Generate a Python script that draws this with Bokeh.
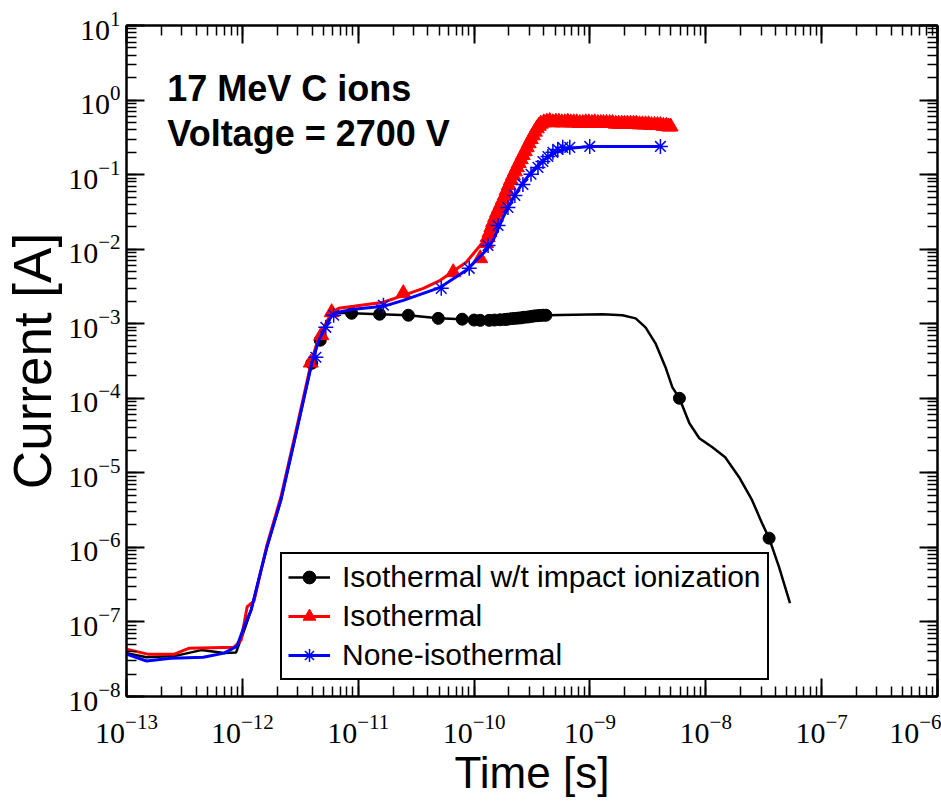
from bokeh.plotting import figure
from bokeh.models import LogAxis, LogTicker, CustomJSTickFormatter, Label
from bokeh.embed import file_html
from bokeh.resources import INLINE

# ---------------- data ----------------
black_t = [1.0e-13, 1.49e-13, 2.59e-13, 4.42e-13, 6.97e-13, 8.83e-13,
           1.03e-12, 1.19e-12, 1.45e-12, 1.63e-12, 2.15e-12, 2.95e-12, 3.97e-12, 4.56e-12, 5.90e-12, 6.52e-12,
           8.77e-12, 1.53e-11, 2.71e-11, 4.91e-11, 7.90e-11, 1.13e-10, 1.68e-10, 2.64e-10, 4.17e-10,
           1.29e-9, 1.91e-9, 2.48e-9, 3.02e-9, 3.68e-9, 4.49e-9, 5.15e-9, 5.92e-9, 7.22e-9, 8.79e-9,
           1.14e-8, 1.47e-8, 1.94e-8, 2.51e-8, 3.06e-8, 3.52e-8, 4.29e-8, 5.33e-8]
black_i = [3.82e-8, 3.37e-8, 3.48e-8, 4.19e-8, 3.82e-8, 3.9e-8,
           7.5e-8, 1.44e-7, 4.94e-7, 1.01e-6, 4.30e-6, 3.72e-5, 2.94e-4, 5.98e-4, 1.30e-3, 1.40e-3,
           1.38e-3, 1.34e-3, 1.30e-3, 1.18e-3, 1.15e-3, 1.11e-3, 1.13e-3, 1.20e-3, 1.30e-3,
           1.34e-3, 1.30e-3, 1.18e-3, 8.95e-4, 5.46e-4, 2.61e-4, 1.40e-4, 1.00e-4, 4.62e-5, 2.91e-5,
           2.20e-5, 1.62e-5, 8.73e-6, 4.30e-6, 2.11e-6, 1.33e-6, 5.43e-7, 1.79e-7]
black_mk_t = [3.97e-12, 4.7e-12, 8.77e-12, 1.53e-11, 2.71e-11, 4.91e-11, 7.90e-11, 1.0e-10, 1.13e-10, 1.35e-10,
              1.5e-10, 1.68e-10, 1.85e-10, 1.95e-10, 2.1e-10, 2.25e-10, 2.4e-10, 2.55e-10, 2.7e-10, 2.9e-10,
              3.1e-10, 3.3e-10, 3.5e-10, 3.7e-10, 3.95e-10, 4.17e-10, 5.92e-9, 3.52e-8]
black_mk_i = [2.94e-4, 6.0e-4, 1.38e-3, 1.34e-3, 1.30e-3, 1.18e-3, 1.15e-3, 1.12e-3, 1.11e-3, 1.11e-3,
              1.12e-3, 1.13e-3, 1.14e-3, 1.15e-3, 1.17e-3, 1.18e-3, 1.19e-3, 1.20e-3, 1.22e-3, 1.23e-3,
              1.25e-3, 1.27e-3, 1.28e-3, 1.29e-3, 1.30e-3, 1.30e-3, 1.0e-4, 1.33e-6]

red_t = [1.0e-13, 1.52e-13, 2.59e-13, 3.48e-13, 8.49e-13, 9.75e-13, 1.10e-12, 1.26e-12,
         1.45e-12, 1.63e-12, 2.15e-12, 2.95e-12, 3.97e-12, 4.56e-12, 5.90e-12, 6.78e-12,
         9.12e-12, 1.65e-11, 2.45e-11, 3.65e-11, 5.11e-11, 8.56e-11, 1.27e-10, 1.78e-10,
         2.17e-10, 2.64e-10, 3.22e-10, 3.93e-10, 5.83e-10, 1.29e-9, 2.84e-9, 4.67e-9, 5.15e-9]
red_i = [4.32e-8, 3.70e-8, 3.70e-8, 4.45e-8, 4.59e-8, 5.70e-8, 1.6e-7, 1.9e-7,
         4.94e-7, 1.07e-6, 4.71e-6, 4.08e-5, 3.23e-4, 6.58e-4, 1.42e-3, 1.61e-3,
         1.71e-3, 1.94e-3, 2.40e-3, 2.98e-3, 3.82e-3, 6.66e-3, 1.40e-2, 4.51e-2,
         9.75e-2, 0.181, 0.335, 0.50, 0.50, 0.49, 0.48, 0.45, 0.44]
red_mk_t = [3.9e-12, 4.8e-12, 5.90e-12, 2.45e-11, 6.61e-11, 1.13e-10, 1.27e-10,
            1.31e-10, 1.36e-10, 1.41e-10, 1.46e-10, 1.52e-10, 1.58e-10, 1.64e-10, 1.70e-10, 1.77e-10,
            1.84e-10, 1.91e-10, 1.99e-10, 2.08e-10, 2.17e-10, 2.25e-10, 2.34e-10, 2.43e-10,
            2.53e-10, 2.63e-10, 2.74e-10, 2.85e-10, 2.96e-10, 3.09e-10, 3.22e-10, 3.35e-10,
            3.48e-10, 3.62e-10, 3.77e-10, 4.0e-10,
            4.25e-10, 4.5e-10, 4.79e-10, 5.08e-10, 5.39e-10, 5.72e-10, 6.07e-10, 6.44e-10,
            6.83e-10, 7.25e-10, 7.70e-10, 8.17e-10, 8.67e-10, 9.2e-10, 9.77e-10, 1.04e-9,
            1.10e-9, 1.17e-9, 1.24e-9, 1.31e-9, 1.39e-9, 1.48e-9, 1.57e-9, 1.67e-9,
            1.77e-9, 1.88e-9, 1.99e-9, 2.11e-9, 2.24e-9, 2.38e-9, 2.52e-9, 2.68e-9,
            2.84e-9, 3.02e-9, 3.21e-9, 3.40e-9, 3.61e-9, 3.83e-9, 4.06e-9, 4.31e-9,
            4.57e-9, 4.78e-9, 4.97e-9]
red_mk_i = [3.0e-4, 7.0e-4, 1.42e-3, 2.56e-3, 4.89e-3, 7.53e-3, 1.20e-2,
            0.0145, 0.0168, 0.0197, 0.0229, 0.0268, 0.0311, 0.0352, 0.0399, 0.0460,
            0.0526, 0.0615, 0.0716, 0.0840, 0.0975, 0.110, 0.125, 0.142,
            0.160, 0.182, 0.205, 0.232, 0.262, 0.298, 0.335, 0.375,
            0.416, 0.45, 0.48, 0.50,
            0.51, 0.52, 0.50, 0.51, 0.51, 0.50, 0.50, 0.51,
            0.50, 0.50, 0.50, 0.49, 0.49, 0.50, 0.50, 0.49,
            0.50, 0.49, 0.49, 0.49, 0.49, 0.49, 0.49, 0.48,
            0.48, 0.48, 0.48, 0.48, 0.48, 0.48, 0.48, 0.47,
            0.47, 0.47, 0.47, 0.46, 0.46, 0.46, 0.46, 0.45,
            0.45, 0.44, 0.44]

blue_t = [1.0e-13, 1.49e-13, 2.42e-13, 4.6e-13, 6.97e-13, 9.0e-13,
          1.03e-12, 1.19e-12, 1.45e-12, 1.63e-12, 2.15e-12, 2.95e-12, 3.97e-12, 4.56e-12, 5.90e-12, 6.52e-12,
          9.12e-12, 1.65e-11, 2.45e-11, 5.11e-11, 8.56e-11, 1.27e-10, 1.46e-10, 1.78e-10, 2.17e-10, 2.64e-10,
          3.22e-10, 3.93e-10, 5.08e-10, 6.70e-10, 9.96e-10, 4.06e-9]
blue_i = [3.70e-8, 2.99e-8, 3.27e-8, 3.37e-8, 3.82e-8, 4.74e-8,
          8.51e-8, 1.44e-7, 4.94e-7, 1.01e-6, 4.30e-6, 3.72e-5, 2.94e-4, 5.98e-4, 1.30e-3, 1.42e-3,
          1.56e-3, 1.71e-3, 2.06e-3, 3.08e-3, 5.20e-3, 9.64e-3, 1.31e-2, 2.67e-2, 4.80e-2, 7.85e-2,
          0.114, 0.155, 0.199, 0.225, 0.239, 0.239]
blue_mk_t = [4.31e-12, 5.25e-12, 6.14e-12, 1.65e-11, 5.21e-11, 9.08e-11, 1.32e-10, 1.61e-10,
             1.96e-10, 2.25e-10, 2.64e-10, 3.10e-10, 3.56e-10, 3.93e-10, 4.34e-10, 4.79e-10,
             5.28e-10, 5.83e-10, 6.70e-10, 9.96e-10, 4.06e-9]
blue_mk_i = [3.55e-4, 8.95e-4, 1.30e-3, 1.77e-3, 2.98e-3, 5.53e-3, 1.12e-2, 2.08e-2,
             3.63e-2, 5.26e-2, 7.39e-2, 0.101, 0.125, 0.150, 0.175, 0.199,
             0.218, 0.232, 0.232, 0.239, 0.239]

series_names = ["Isothermal w/t impact ionization", "Isothermal", "None-isothermal"]
annotation_lines = ["17 MeV C ions", "Voltage = 2700 V"]
x_label = "Time [s]"
y_label = "Current [A]"

# ---------------- figure ----------------
p = figure(width=941, height=805, x_axis_type="log", y_axis_type="log",
           x_range=(1e-13, 1e-6), y_range=(1e-8, 10),
           output_backend="svg", toolbar_location=None,
           min_border_left=122, min_border_right=4, min_border_top=25, min_border_bottom=109)
p.grid.visible = False
p.outline_line_color = "black"
p.outline_line_width = 2
p.outline_line_alpha = 1.0
p.background_fill_color = "white"
p.border_fill_color = "white"

def style_axis(ax):
    ax.axis_line_width = 2
    ax.axis_line_color = "black"
    ax.major_tick_in = 18
    ax.major_tick_out = 0
    ax.minor_tick_in = 10
    ax.minor_tick_out = 0
    ax.major_tick_line_width = 2
    ax.minor_tick_line_width = 1.5
    ax.major_tick_line_color = "black"
    ax.minor_tick_line_color = "black"
    ax.major_label_text_font = "Liberation Serif"
    ax.major_label_text_font_size = "30px"
    ax.major_label_text_color = "black"
    ax.ticker.num_minor_ticks = 10

for ax in p.xaxis + p.yaxis:
    style_axis(ax)
p.xaxis.major_label_standoff = 18
p.yaxis.major_label_standoff = 6
p.xaxis.axis_label = x_label
p.yaxis.axis_label = y_label
for ax in p.xaxis + p.yaxis:
    ax.axis_label_text_font = "Liberation Sans"
    ax.axis_label_text_font_style = "normal"
    ax.axis_label_text_color = "black"
p.xaxis.axis_label_text_font_size = "44px"
p.yaxis.axis_label_text_font_size = "53px"
p.xaxis.axis_label_standoff = 2
p.yaxis.axis_label_standoff = 3

blank = CustomJSTickFormatter(code="return ''")
top = LogAxis(ticker=LogTicker(num_minor_ticks=10), formatter=blank)
right = LogAxis(ticker=LogTicker(num_minor_ticks=10), formatter=blank)
for ax in (top, right):
    style_axis(ax)
    ax.major_label_standoff = 0
    ax.major_label_text_font_size = "1px"
p.add_layout(top, "above")
p.add_layout(right, "right")

# ---------------- series ----------------
p.line(black_t, black_i, line_color="black", line_width=2.5, legend_label=series_names[0])
p.scatter(black_mk_t, black_mk_i, marker="circle", size=12, fill_color="black", line_color="black",
          legend_label=series_names[0])

p.line(red_t, red_i, line_color="red", line_width=3, legend_label=series_names[1])
p.scatter(red_mk_t, red_mk_i, marker="triangle", size=15, fill_color="red", line_color="red",
          legend_label=series_names[1])

p.line(blue_t, blue_i, line_color="blue", line_width=3, legend_label=series_names[2])
p.scatter(blue_mk_t, blue_mk_i, marker="asterisk", size=15, line_color="blue", line_width=1.5,
          legend_label=series_names[2])

# ---------------- annotation ----------------
for txt, yv in zip(annotation_lines, [1.44, 0.36]):
    p.add_layout(Label(x=2.25e-13, y=yv, text=txt, text_font="Liberation Sans",
                       text_font_style="bold", text_font_size="36px", text_color="black",
                       text_baseline="alphabetic"))

# ---------------- legend ----------------
lg = p.legend[0]
lg.location = (154, 16)
lg.label_text_font = "Liberation Sans"
lg.label_text_font_size = "30px"
lg.label_text_color = "black"
lg.glyph_width = 42
lg.glyph_height = 32
lg.label_height = 32
lg.label_standoff = 12
lg.padding = 6
lg.spacing = 5
lg.margin = 0
lg.border_line_color = "black"
lg.border_line_alpha = 1.0
lg.border_line_width = 2
lg.background_fill_alpha = 1.0

open("out.html", "w").write(file_html(p, INLINE))
